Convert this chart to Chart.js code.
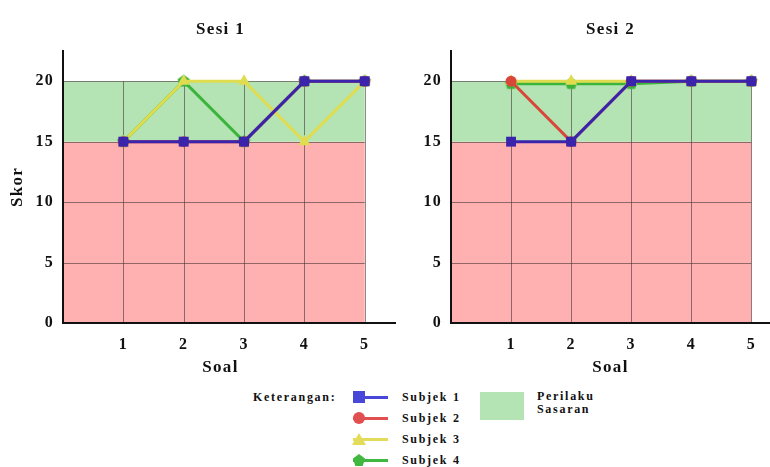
<!DOCTYPE html>
<html>
<head>
<meta charset="utf-8">
<script src="https://cdn.jsdelivr.net/npm/chart.js@4.4.0/dist/chart.umd.min.js"></script>
<style>
body { margin: 0; background: #fff; }
#wrap { position: relative; width: 770px; height: 467px; overflow: hidden;
        font-family: "Liberation Serif", "Times New Roman", serif; font-weight: bold; color: #111; }
#c1 { position: absolute; left: 0; top: 0; }
#c2 { position: absolute; left: 385px; top: 0; }
.txt { position: absolute; font-size: 12px; line-height: 14px; letter-spacing: 1.7px; white-space: nowrap; }
.ln { position: absolute; width: 35px; height: 3px; }
.mk { position: absolute; width: 12px; height: 12px; }
.ci { border-radius: 50%; }
.tri { clip-path: polygon(50% 0, 100% 100%, 0 100%); }
.pent { clip-path: polygon(50% 0, 100% 38%, 81% 100%, 19% 100%, 0 38%); }
</style>
</head>
<body>
<div id="wrap">
  <canvas id="c1" width="396" height="380"></canvas>
  <canvas id="c2" width="385" height="380"></canvas>

  <div class="txt" style="left:253px; top:390px;">Keterangan:</div>

  <div class="ln" style="left:353px; top:396px; background:#4848d8;"></div>
  <div class="mk" style="left:353px; top:391px; background:#4848d8;"></div>
  <div class="txt" style="left:402px; top:390px;">Subjek 1</div>

  <div class="ln" style="left:353px; top:417px; background:#e05050;"></div>
  <div class="mk ci" style="left:353px; top:412px; background:#e05050;"></div>
  <div class="txt" style="left:402px; top:411px;">Subjek 2</div>

  <div class="ln" style="left:353px; top:438px; background:#e2dc5a;"></div>
  <div class="mk tri" style="left:352px; top:433px; width:14px; background:#e2dc5a;"></div>
  <div class="txt" style="left:402px; top:432px;">Subjek 3</div>

  <div class="ln" style="left:353px; top:459px; background:#40b840;"></div>
  <div class="mk pent" style="left:353px; top:454px; background:#40b840;"></div>
  <div class="txt" style="left:402px; top:453px;">Subjek 4</div>

  <div style="position:absolute; left:480px; top:392px; width:44px; height:28px; background:#b4e4b4;"></div>
  <div class="txt" style="left:537px; top:390px; line-height:13px;">Perilaku<br>Sasaran</div>
</div>

<script>
// --- DATA ---
const questions = [1, 2, 3, 4, 5];
const scoreTicks = [0, 5, 10, 15, 20];
const subjectNames = ['Subjek 1', 'Subjek 2', 'Subjek 3', 'Subjek 4'];

// Sesi 1
const s1Subjek1 = [15, 15, 15, 20, 20];
const s1Subjek2 = [15, 15, 15, 20, 20];
const s1Subjek3 = [15, 20, 20, 15, 20];
const s1Subjek4 = [15, 20, 15, 20, 20];

// Sesi 2
const s2Subjek1 = [15, 15, 20, 20, 20];
const s2Subjek2 = [20, 15, 20, 20, 20];
const s2Subjek3 = [20, 20, 20, 20, 20];
const s2Subjek4 = [19.8, 19.8, 19.8, 20, 20];

// score bands: below target / target behaviour (Perilaku Sasaran)
const lowBand = [0, 15];
const targetBand = [15, 20];
// -------------

const FONT = "'Liberation Serif', 'Times New Roman', serif";

function pentagon(color, r) {
    const c = document.createElement('canvas');
    c.width = c.height = 2 * r + 2;
    const g = c.getContext('2d');
    g.fillStyle = color;
    g.beginPath();
    for (let i = 0; i < 5; i++) {
        const a = -Math.PI / 2 + i * 2 * Math.PI / 5;
        g.lineTo(r + 1 + r * Math.cos(a), r + 1 + r * Math.sin(a));
    }
    g.closePath();
    g.fill();
    return c;
}

// bands + grid, drawn before scales so the axis lines stay on top
const bandPlugin = {
    id: 'bands',
    beforeUpdate(chart) { chart.ctx.letterSpacing = '1.3px'; },
    beforeDraw(chart) {
        const { ctx, scales: { x, y } } = chart;
        ctx.letterSpacing = '1.3px';
        const xl = x.getPixelForValue(0);
        const xr = x.getPixelForValue(questions[questions.length - 1]);
        ctx.save();
        ctx.fillStyle = '#ffb0b0';
        ctx.fillRect(xl, y.getPixelForValue(lowBand[1]), xr - xl, y.getPixelForValue(lowBand[0]) - y.getPixelForValue(lowBand[1]));
        ctx.fillStyle = '#b4e4b4';
        ctx.fillRect(xl, y.getPixelForValue(targetBand[1]), xr - xl, y.getPixelForValue(targetBand[0]) - y.getPixelForValue(targetBand[1]));

        ctx.strokeStyle = 'rgba(70,55,55,0.6)';
        ctx.lineWidth = 1;
        ctx.beginPath();
        scoreTicks.forEach(v => {
            const py = Math.round(y.getPixelForValue(v)) + 0.5;
            ctx.moveTo(xl, py); ctx.lineTo(xr, py);
        });
        const yTop = y.getPixelForValue(scoreTicks[scoreTicks.length - 1]);
        const yBot = y.getPixelForValue(0);
        questions.forEach(v => {
            const px = Math.round(x.getPixelForValue(v)) + 0.5;
            ctx.moveTo(px, yTop); ctx.lineTo(px, yBot);
        });
        ctx.stroke();

        // the x axis line runs on to the canvas edge
        ctx.strokeStyle = '#111';
        ctx.lineWidth = 2;
        ctx.beginPath();
        ctx.moveTo(chart.chartArea.right - 1, chart.chartArea.bottom);
        ctx.lineTo(chart.width, chart.chartArea.bottom);
        ctx.stroke();
        ctx.restore();
    }
};

function makeChart(canvasId, title, series, opts) {
    const colors = ['#3a24ac', '#d9473a', '#e0dc50', '#3cb43c'];
    const styles = ['rect', 'circle', 'triangle', pentagon('#3cb43c', 6.5)];
    const radii = [7, 5.5, 7, 6];

    const datasets = series.map((data, i) => ({
        label: subjectNames[i],
        data: data,
        borderColor: colors[i],
        backgroundColor: colors[i],
        borderWidth: 3,
        pointStyle: styles[i],
        pointRadius: radii[i],
        pointHoverRadius: radii[i],
        pointBorderWidth: 0,
        tension: 0,
        clip: false
    }));

    const tickFont = { family: FONT, size: 16, weight: 'bold' };
    const labelFont = { family: FONT, size: 17, weight: 'bold' };

    return new Chart(document.getElementById(canvasId), {
        type: 'line',
        data: { labels: questions, datasets: datasets },
        plugins: [bandPlugin],
        options: {
            responsive: false,
            animation: false,
            events: [],
            layout: { autoPadding: false, padding: { right: opts.padRight } },
            plugins: {
                legend: { display: false },
                tooltip: { enabled: false },
                title: {
                    display: true,
                    fullSize: false,
                    text: title,
                    color: '#111',
                    font: labelFont,
                    padding: { top: 19, bottom: 11.6 }
                }
            },
            scales: {
                x: {
                    type: 'linear',
                    min: 0,
                    max: opts.xMax,
                    afterBuildTicks: s => { s.ticks = questions.map(v => ({ value: v })); },
                    afterFit: s => { s.height = 57; },
                    grid: { display: false, drawTicks: false },
                    border: { display: true, color: '#111', width: 2 },
                    ticks: { color: '#111', padding: 12, font: tickFont },
                    title: {
                        display: true,
                        text: 'Soal',
                        color: '#111',
                        font: labelFont,
                        padding: { top: 0, bottom: 2 }
                    }
                },
                y: {
                    min: 0,
                    max: 22.5,
                    afterBuildTicks: s => { s.ticks = scoreTicks.map(v => ({ value: v })); },
                    afterFit: s => { s.width = opts.yWidth; },
                    grid: { display: false, drawTicks: false },
                    border: { display: true, color: '#111', width: 2 },
                    ticks: { color: '#111', padding: 9, font: tickFont },
                    title: {
                        display: opts.yTitle,
                        text: 'Skor',
                        color: '#111',
                        font: labelFont,
                        padding: { top: 7, bottom: 0 }
                    }
                }
            }
        }
    });
}

makeChart('c1', 'Sesi 1', [s1Subjek1, s1Subjek2, s1Subjek3, s1Subjek4], { xMax: 5.22, yWidth: 63, yTitle: true, padRight: 18 });
makeChart('c2', 'Sesi 2', [s2Subjek1, s2Subjek2, s2Subjek3, s2Subjek4], { xMax: 5.31, yWidth: 66, yTitle: false, padRight: 0 });
</script>
</body>
</html>
